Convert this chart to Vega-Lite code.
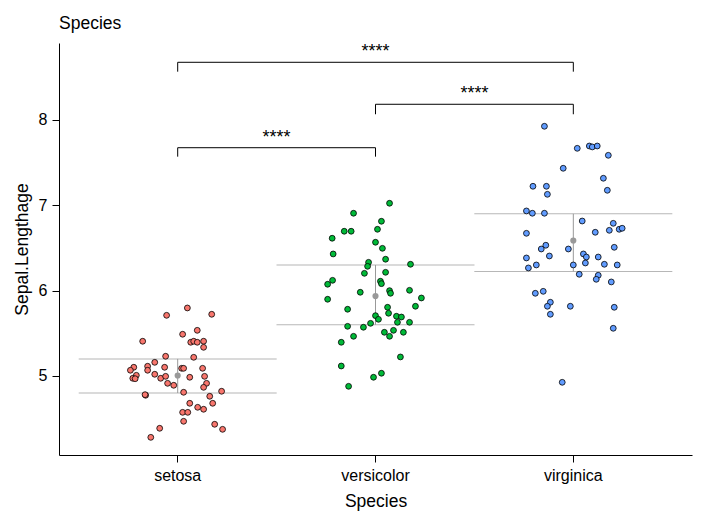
{
  "$schema": "https://vega.github.io/schema/vega-lite/v6.json",
  "autosize": {"type": "none"},
  "width": 633,
  "height": 412,
  "padding": {"left": 59, "top": 43, "right": 13, "bottom": 68},
  "background": "white",
  "config": {
    "view": {"stroke": null},
    "font": "Liberation Sans",
    "axis": {"grid": false, "domainColor": "black", "tickColor": "black", "labelColor": "black", "titleColor": "black", "labelFontSize": 16, "titleFontSize": 17.5, "titleFontWeight": "normal", "tickSize": 7, "labelFont": "Liberation Sans", "titleFont": "Liberation Sans", "domainWidth": 1, "tickWidth": 1}
  },
  "title": {"text": "Species", "anchor": "start", "frame": "group", "fontSize": 17.5, "fontWeight": "normal", "font": "Liberation Sans", "color": "black", "baseline": "alphabetic", "offset": -3},
  "datasets": {
    "summary": [
      {"Species": "setosa", "q1": 4.8, "q3": 5.2, "mean": 5.006},
      {"Species": "versicolor", "q1": 5.6, "q3": 6.3, "mean": 5.936},
      {"Species": "virginica", "q1": 6.225, "q3": 6.9, "mean": 6.588}
    ],
    "brackets": [
      {"g1": "setosa", "g2": "virginica", "y": 8.676},
      {"g1": "versicolor", "g2": "virginica", "y": 8.184},
      {"g1": "setosa", "g2": "versicolor", "y": 7.675}
    ],
    "tips": [
      {"Species": "setosa", "y": 8.676, "ytip": 8.566},
      {"Species": "virginica", "y": 8.676, "ytip": 8.566},
      {"Species": "versicolor", "y": 8.184, "ytip": 8.067},
      {"Species": "virginica", "y": 8.184, "ytip": 8.067},
      {"Species": "setosa", "y": 7.675, "ytip": 7.57},
      {"Species": "versicolor", "y": 7.675, "ytip": 7.57}
    ],
    "labels": [
      {"Species": "versicolor", "off": 0, "y": 8.676, "label": "****"},
      {"Species": "versicolor", "off": 0.5, "y": 8.184, "label": "****"},
      {"Species": "setosa", "off": 0.5, "y": 7.675, "label": "****"}
    ],
    "points": [
      {"Species": "setosa", "jitter": 0.049, "len": 5.797},
      {"Species": "setosa", "jitter": -0.056, "len": 5.711},
      {"Species": "setosa", "jitter": 0.172, "len": 5.723},
      {"Species": "setosa", "jitter": 0.099, "len": 5.535},
      {"Species": "setosa", "jitter": 0.025, "len": 5.489},
      {"Species": "setosa", "jitter": -0.177, "len": 5.407},
      {"Species": "setosa", "jitter": 0.066, "len": 5.395},
      {"Species": "setosa", "jitter": 0.081, "len": 5.407},
      {"Species": "setosa", "jitter": 0.099, "len": 5.395},
      {"Species": "setosa", "jitter": 0.131, "len": 5.407},
      {"Species": "setosa", "jitter": 0.131, "len": 5.336},
      {"Species": "setosa", "jitter": -0.061, "len": 5.231},
      {"Species": "setosa", "jitter": 0.081, "len": 5.219},
      {"Species": "setosa", "jitter": -0.116, "len": 5.16},
      {"Species": "setosa", "jitter": -0.222, "len": 5.102},
      {"Species": "setosa", "jitter": -0.239, "len": 5.067},
      {"Species": "setosa", "jitter": -0.152, "len": 5.114},
      {"Species": "setosa", "jitter": -0.152, "len": 5.067},
      {"Species": "setosa", "jitter": -0.066, "len": 5.102},
      {"Species": "setosa", "jitter": 0.02, "len": 5.09},
      {"Species": "setosa", "jitter": 0.03, "len": 5.09},
      {"Species": "setosa", "jitter": 0.126, "len": 5.09},
      {"Species": "setosa", "jitter": -0.209, "len": 5.008},
      {"Species": "setosa", "jitter": -0.227, "len": 4.973},
      {"Species": "setosa", "jitter": -0.215, "len": 4.968},
      {"Species": "setosa", "jitter": -0.116, "len": 5.02},
      {"Species": "setosa", "jitter": -0.086, "len": 4.973},
      {"Species": "setosa", "jitter": -0.061, "len": 4.996},
      {"Species": "setosa", "jitter": 0.061, "len": 4.985},
      {"Species": "setosa", "jitter": 0.136, "len": 4.996},
      {"Species": "setosa", "jitter": -0.051, "len": 4.914},
      {"Species": "setosa", "jitter": -0.02, "len": 4.891},
      {"Species": "setosa", "jitter": 0.146, "len": 4.914},
      {"Species": "setosa", "jitter": 0.131, "len": 4.867},
      {"Species": "setosa", "jitter": 0.222, "len": 4.821},
      {"Species": "setosa", "jitter": -0.162, "len": 4.774},
      {"Species": "setosa", "jitter": -0.165, "len": 4.781},
      {"Species": "setosa", "jitter": 0.03, "len": 4.809},
      {"Species": "setosa", "jitter": 0.162, "len": 4.762},
      {"Species": "setosa", "jitter": 0.061, "len": 4.68},
      {"Species": "setosa", "jitter": 0.177, "len": 4.68},
      {"Species": "setosa", "jitter": 0.101, "len": 4.633},
      {"Species": "setosa", "jitter": 0.131, "len": 4.61},
      {"Species": "setosa", "jitter": 0.025, "len": 4.574},
      {"Species": "setosa", "jitter": 0.051, "len": 4.574},
      {"Species": "setosa", "jitter": 0.03, "len": 4.469},
      {"Species": "setosa", "jitter": -0.091, "len": 4.387},
      {"Species": "setosa", "jitter": 0.187, "len": 4.434},
      {"Species": "setosa", "jitter": 0.227, "len": 4.375},
      {"Species": "setosa", "jitter": -0.136, "len": 4.281},
      {"Species": "versicolor", "jitter": 0.071, "len": 7.024},
      {"Species": "versicolor", "jitter": -0.111, "len": 6.907},
      {"Species": "versicolor", "jitter": 0.03, "len": 6.813},
      {"Species": "versicolor", "jitter": -0.158, "len": 6.696},
      {"Species": "versicolor", "jitter": -0.123, "len": 6.696},
      {"Species": "versicolor", "jitter": 0.01, "len": 6.719},
      {"Species": "versicolor", "jitter": -0.219, "len": 6.614},
      {"Species": "versicolor", "jitter": 0.0, "len": 6.567},
      {"Species": "versicolor", "jitter": 0.035, "len": 6.496},
      {"Species": "versicolor", "jitter": -0.214, "len": 6.43},
      {"Species": "versicolor", "jitter": 0.051, "len": 6.368},
      {"Species": "versicolor", "jitter": -0.035, "len": 6.332},
      {"Species": "versicolor", "jitter": -0.04, "len": 6.285},
      {"Species": "versicolor", "jitter": 0.177, "len": 6.309},
      {"Species": "versicolor", "jitter": -0.056, "len": 6.203},
      {"Species": "versicolor", "jitter": 0.051, "len": 6.215},
      {"Species": "versicolor", "jitter": -0.217, "len": 6.121},
      {"Species": "versicolor", "jitter": -0.242, "len": 6.075},
      {"Species": "versicolor", "jitter": 0.025, "len": 6.11},
      {"Species": "versicolor", "jitter": 0.03, "len": 6.082},
      {"Species": "versicolor", "jitter": -0.242, "len": 5.899},
      {"Species": "versicolor", "jitter": -0.077, "len": 5.981},
      {"Species": "versicolor", "jitter": 0.071, "len": 6.0},
      {"Species": "versicolor", "jitter": 0.076, "len": 5.969},
      {"Species": "versicolor", "jitter": 0.172, "len": 6.004},
      {"Species": "versicolor", "jitter": 0.232, "len": 5.914},
      {"Species": "versicolor", "jitter": -0.141, "len": 5.782},
      {"Species": "versicolor", "jitter": 0.061, "len": 5.805},
      {"Species": "versicolor", "jitter": 0.066, "len": 5.735},
      {"Species": "versicolor", "jitter": 0.202, "len": 5.817},
      {"Species": "versicolor", "jitter": 0.106, "len": 5.7},
      {"Species": "versicolor", "jitter": 0.131, "len": 5.691},
      {"Species": "versicolor", "jitter": 0.0, "len": 5.707},
      {"Species": "versicolor", "jitter": 0.015, "len": 5.664},
      {"Species": "versicolor", "jitter": 0.111, "len": 5.629},
      {"Species": "versicolor", "jitter": 0.172, "len": 5.629},
      {"Species": "versicolor", "jitter": -0.025, "len": 5.617},
      {"Species": "versicolor", "jitter": -0.141, "len": 5.582},
      {"Species": "versicolor", "jitter": -0.061, "len": 5.571},
      {"Species": "versicolor", "jitter": 0.045, "len": 5.512},
      {"Species": "versicolor", "jitter": 0.091, "len": 5.535},
      {"Species": "versicolor", "jitter": 0.141, "len": 5.512},
      {"Species": "versicolor", "jitter": 0.071, "len": 5.465},
      {"Species": "versicolor", "jitter": -0.111, "len": 5.465},
      {"Species": "versicolor", "jitter": -0.173, "len": 5.395},
      {"Species": "versicolor", "jitter": 0.126, "len": 5.223},
      {"Species": "versicolor", "jitter": -0.173, "len": 5.117},
      {"Species": "versicolor", "jitter": 0.03, "len": 5.032},
      {"Species": "versicolor", "jitter": -0.01, "len": 4.985},
      {"Species": "versicolor", "jitter": -0.136, "len": 4.879},
      {"Species": "virginica", "jitter": -0.146, "len": 7.926},
      {"Species": "virginica", "jitter": 0.02, "len": 7.668},
      {"Species": "virginica", "jitter": 0.081, "len": 7.695},
      {"Species": "virginica", "jitter": 0.096, "len": 7.684},
      {"Species": "virginica", "jitter": 0.121, "len": 7.695},
      {"Species": "virginica", "jitter": 0.177, "len": 7.586},
      {"Species": "virginica", "jitter": -0.051, "len": 7.434},
      {"Species": "virginica", "jitter": 0.152, "len": 7.317},
      {"Species": "virginica", "jitter": -0.204, "len": 7.223},
      {"Species": "virginica", "jitter": -0.136, "len": 7.223},
      {"Species": "virginica", "jitter": -0.131, "len": 7.129},
      {"Species": "virginica", "jitter": 0.172, "len": 7.176},
      {"Species": "virginica", "jitter": -0.237, "len": 6.934},
      {"Species": "virginica", "jitter": -0.207, "len": 6.907},
      {"Species": "virginica", "jitter": -0.146, "len": 6.907},
      {"Species": "virginica", "jitter": 0.045, "len": 6.816},
      {"Species": "virginica", "jitter": 0.202, "len": 6.789},
      {"Species": "virginica", "jitter": 0.182, "len": 6.707},
      {"Species": "virginica", "jitter": 0.232, "len": 6.719},
      {"Species": "virginica", "jitter": 0.247, "len": 6.731},
      {"Species": "virginica", "jitter": 0.111, "len": 6.684},
      {"Species": "virginica", "jitter": -0.237, "len": 6.672},
      {"Species": "virginica", "jitter": -0.139, "len": 6.532},
      {"Species": "virginica", "jitter": -0.162, "len": 6.488},
      {"Species": "virginica", "jitter": -0.025, "len": 6.488},
      {"Species": "virginica", "jitter": 0.207, "len": 6.508},
      {"Species": "virginica", "jitter": -0.237, "len": 6.383},
      {"Species": "virginica", "jitter": -0.121, "len": 6.406},
      {"Species": "virginica", "jitter": 0.051, "len": 6.43},
      {"Species": "virginica", "jitter": 0.066, "len": 6.394},
      {"Species": "virginica", "jitter": 0.126, "len": 6.394},
      {"Species": "virginica", "jitter": -0.227, "len": 6.266},
      {"Species": "virginica", "jitter": -0.187, "len": 6.301},
      {"Species": "virginica", "jitter": 0.0, "len": 6.301},
      {"Species": "virginica", "jitter": 0.061, "len": 6.324},
      {"Species": "virginica", "jitter": 0.157, "len": 6.309},
      {"Species": "virginica", "jitter": 0.222, "len": 6.301},
      {"Species": "virginica", "jitter": 0.03, "len": 6.192},
      {"Species": "virginica", "jitter": 0.126, "len": 6.18},
      {"Species": "virginica", "jitter": 0.116, "len": 6.133},
      {"Species": "virginica", "jitter": 0.192, "len": 6.102},
      {"Species": "virginica", "jitter": -0.192, "len": 5.969},
      {"Species": "virginica", "jitter": -0.152, "len": 5.992},
      {"Species": "virginica", "jitter": -0.116, "len": 5.864},
      {"Species": "virginica", "jitter": -0.131, "len": 5.817},
      {"Species": "virginica", "jitter": -0.015, "len": 5.817},
      {"Species": "virginica", "jitter": 0.207, "len": 5.805},
      {"Species": "virginica", "jitter": -0.116, "len": 5.723},
      {"Species": "virginica", "jitter": 0.202, "len": 5.559},
      {"Species": "virginica", "jitter": -0.056, "len": 4.926}
    ]
  },
  "layer": [
    {
      "data": {"name": "summary"},
      "mark": {"type": "tick", "orient": "horizontal", "size": 198, "thickness": 1, "color": "#999999"},
      "encoding": {
        "x": {"field": "Species", "type": "nominal", "title": "Species", "scale": {"domain": ["setosa", "versicolor", "virginica"], "paddingInner": 0, "paddingOuter": 0.1}, "axis": {"labelAngle": 0, "labelPadding": 5, "titlePadding": 9}},
        "y": {"field": "q1", "type": "quantitative", "title": "Sepal.Lengthage", "scale": {"domain": [4.074, 8.902], "nice": false, "zero": false}, "axis": {"values": [5, 6, 7, 8], "format": "d", "labelPadding": 5, "titlePadding": 7}}
      }
    },
    {
      "data": {"name": "summary"},
      "mark": {"type": "tick", "orient": "horizontal", "size": 198, "thickness": 1, "color": "#999999"},
      "encoding": {
        "x": {"field": "Species", "type": "nominal", "title": "Species"},
        "y": {"field": "q3", "type": "quantitative", "title": "Sepal.Lengthage"}
      }
    },
    {
      "data": {"name": "summary"},
      "mark": {"type": "rule", "color": "#999999", "strokeWidth": 1},
      "encoding": {
        "x": {"field": "Species", "type": "nominal", "title": "Species"},
        "y": {"field": "q1", "type": "quantitative", "title": "Sepal.Lengthage"},
        "y2": {"field": "q3"}
      }
    },
    {
      "data": {"name": "summary"},
      "mark": {"type": "point", "shape": "circle", "filled": true, "size": 38, "color": "#999999", "opacity": 1},
      "encoding": {
        "x": {"field": "Species", "type": "nominal", "title": "Species"},
        "y": {"field": "mean", "type": "quantitative", "title": "Sepal.Lengthage"}
      }
    },
    {
      "data": {"name": "points"},
      "mark": {"type": "point", "shape": "circle", "filled": true, "size": 34, "stroke": "black", "strokeWidth": 0.8, "opacity": 1},
      "encoding": {
        "x": {"field": "Species", "type": "nominal", "title": "Species"},
        "xOffset": {"field": "jitter", "type": "quantitative", "scale": {"domain": [-0.5, 0.5]}},
        "y": {"field": "len", "type": "quantitative", "title": "Sepal.Lengthage"},
        "fill": {"field": "Species", "type": "nominal", "scale": {"domain": ["setosa", "versicolor", "virginica"], "range": ["#F8766D", "#00BA38", "#619CFF"]}, "legend": null}
      }
    },
    {
      "data": {"name": "brackets"},
      "mark": {"type": "rule", "color": "black", "strokeWidth": 1},
      "encoding": {
        "x": {"field": "g1", "type": "nominal", "title": "Species"},
        "x2": {"field": "g2"},
        "y": {"field": "y", "type": "quantitative", "title": "Sepal.Lengthage"}
      }
    },
    {
      "data": {"name": "tips"},
      "mark": {"type": "rule", "color": "black", "strokeWidth": 1},
      "encoding": {
        "x": {"field": "Species", "type": "nominal", "title": "Species"},
        "y": {"field": "y", "type": "quantitative", "title": "Sepal.Lengthage"},
        "y2": {"field": "ytip"}
      }
    },
    {
      "data": {"name": "labels"},
      "mark": {"type": "text", "fontSize": 18, "baseline": "alphabetic", "align": "center", "dy": -5, "color": "black", "font": "Liberation Sans"},
      "encoding": {
        "x": {"field": "Species", "type": "nominal", "title": "Species"},
        "xOffset": {"field": "off", "type": "quantitative", "scale": {"domain": [-0.5, 0.5]}},
        "y": {"field": "y", "type": "quantitative", "title": "Sepal.Lengthage"},
        "text": {"field": "label"}
      }
    }
  ]
}
